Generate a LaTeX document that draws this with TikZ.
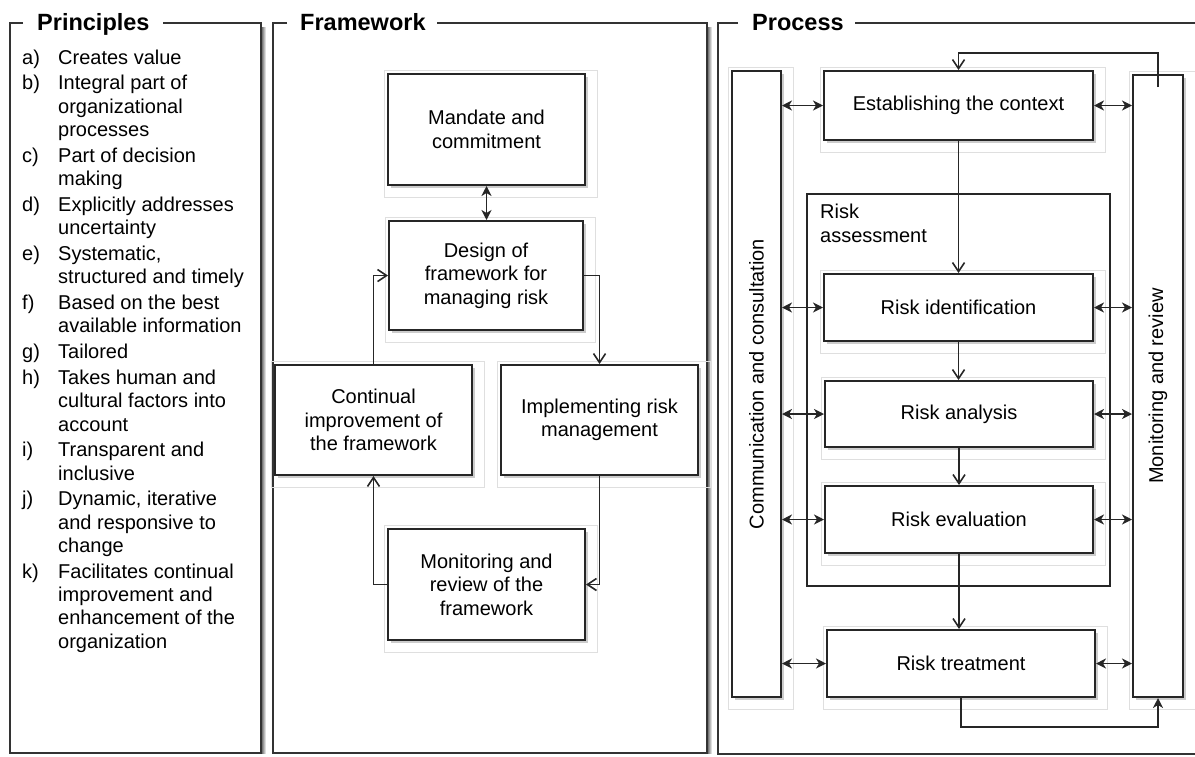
\documentclass[tikz,border=0pt]{standalone}
\usepackage{fontspec}
\setmainfont{Liberation Sans}
\usetikzlibrary{arrows.meta,shadows,calc}
\tikzset{
  box/.style={draw=black!85, line width=2pt, fill=white, inner sep=0pt, align=center,
    font=\fontsize{20}{23.5}\selectfont,
    drop shadow={shadow xshift=3pt, shadow yshift=-3pt, opacity=0.4}},
  title/.style={font=\fontsize{23.5}{26}\selectfont\bfseries, inner sep=0pt, anchor=base west},
  panel/.style={draw=black!80, line width=1.8pt},
  lframe/.style={draw=gray!25, line width=0.9pt},
  arr/.style={draw=black!85, line width=1.6pt, -{Straight Barb[length=9pt,width=12pt]}},
  farr/.style={draw=black!85, line width=1.6pt, -{Stealth[length=10pt,width=10pt,inset=3pt]}},
  darr/.style={draw=black!85, line width=1.6pt, {Stealth[length=10pt,width=10pt,inset=3pt]}-{Stealth[length=10pt,width=10pt,inset=3pt]}},
  txt/.style={font=\fontsize{20}{23.5}\selectfont, inner sep=0pt}
}
\newcommand\rsLframe[1]{\draw[lframe] ($(#1.north west)+(-3,-3)$) rectangle ($(#1.south east)+(11,11)$);}
\begin{document}
\begin{tikzpicture}[x=1pt,y=-1pt]
\useasboundingbox (0,0) rectangle (1195,756);
% panel shadows
\shade[left color=black!60, right color=white] (261.5,27) rectangle (266,753);
\shade[left color=black!60, right color=white] (707.5,27) rectangle (712,753);
% panels
\draw[panel] (23,23) -- (10,23) -- (10,753) -- (261,753) -- (261,23) -- (163,23);
\draw[panel] (287,23) -- (273,23) -- (273,753) -- (707,753) -- (707,23) -- (437,23);
\draw[panel] (738,23) -- (718,23) -- (718,754) -- (1195,754);
\draw[panel] (855,23) -- (1195,23);
\node[title] (ptitle) at (37,30) {Principles};
\node[title] (ftitle) at (300,30) {Framework};
\node[title] (prtitle) at (752,30) {Process};
% principles list
\node[anchor=base west, inner sep=0pt, font=\fontsize{20}{23.3}\selectfont] (plist) at (22,64) {%
\begin{tabular}[t]{@{}p{36pt}@{}l@{}}
a) & Creates value\\[2.5pt]
b) & Integral part of\\
   & organizational\\
   & processes\\[2.5pt]
c) & Part of decision\\
   & making\\[2.5pt]
d) & Explicitly addresses\\
   & uncertainty\\[2.5pt]
e) & Systematic,\\
   & structured and timely\\[2.5pt]
f) & Based on the best\\
   & available information\\[2.5pt]
g) & Tailored\\[2.5pt]
h) & Takes human and\\
   & cultural factors into\\
   & account\\[2.5pt]
i) & Transparent and\\
   & inclusive\\[2.5pt]
j) & Dynamic, iterative\\
   & and responsive to\\
   & change\\[2.5pt]
k) & Facilitates continual\\
   & improvement and\\
   & enhancement of the\\
   & organization
\end{tabular}};
% framework boxes
\node[box, minimum width=197pt, minimum height=111pt] (mandate) at (486.5,129.5) {Mandate and\\commitment};
\node[box, minimum width=194pt, minimum height=109pt] (design) at (486,275.5) {Design of\\framework for\\managing risk};
\node[box, minimum width=197pt, minimum height=110pt] (cont) at (373.5,420) {Continual\\improvement of\\the framework};
\node[box, minimum width=197pt, minimum height=110pt] (impl) at (599.5,420) {Implementing risk\\management};
\node[box, minimum width=197pt, minimum height=111pt] (monf) at (486.5,584.5) {Monitoring and\\review of the\\framework};
\foreach \n in {mandate,design,cont,impl,monf} {\rsLframe{\n}}
\draw[darr] (mandate.south) -- (mandate.south |- design.north);
\draw[arr] (design.east) -| (impl.north);
\draw[arr] (impl.south) |- (monf.east);
\draw[arr] (monf.west) -| (cont.south);
\draw[arr] (cont.north) |- (design.west);
% process
\node[draw=black!85, line width=1.8pt, minimum width=303pt, minimum height=392pt, inner sep=0pt] (rframe) at (958.5,390) {};
\node[anchor=base west, inner sep=0pt, font=\fontsize{20}{24.5}\selectfont] (ratext) at (820,218) {\begin{tabular}[t]{@{}l@{}}Risk\\assessment\end{tabular}};
\node[box, minimum width=49pt, minimum height=626pt] (comm) at (756.5,384) {};
\node[txt, rotate=90] (commtext) at (comm.center) {Communication and consultation};
\node[box, minimum width=50pt, minimum height=622pt] (monitor) at (1158,386) {};
\node[txt, rotate=90] (montext) at (monitor.center) {Monitoring and review};
\node[box, minimum width=269pt, minimum height=69pt] (establish) at (958.5,105.5) {Establishing the context};
\node[box, minimum width=269pt, minimum height=67pt] (ident) at (958.5,307.5) {Risk identification};
\node[box, minimum width=268pt, minimum height=66pt] (anal) at (959,414) {Risk analysis};
\node[box, minimum width=268pt, minimum height=67pt] (eval) at (959,519.5) {Risk evaluation};
\node[box, minimum width=268pt, minimum height=67pt] (treat) at (961,663.5) {Risk treatment};
\foreach \n in {comm,monitor,establish,ident,anal,eval,treat} {\rsLframe{\n}}
\foreach \n in {establish,ident,anal,eval,treat} {
  \draw[darr] (comm.east |- \n.west) -- (\n.west);
  \draw[darr] (\n.east) -- (monitor.west |- \n.east);
}
\draw[arr] (establish.south) -- (establish.south |- ident.north);
\draw[arr] (ident.south) -- (ident.south |- anal.north);
\draw[arr] (anal.south) -- (anal.south |- eval.north);
\draw[arr] (eval.south) -- (eval.south |- treat.north);
\draw[farr] (treat.south) -- ++(0,29) -| (monitor.south);
\coordinate (mstart) at (1158,87);
\draw[arr] (mstart) -- ++(0,-34) -| (establish.north);
\end{tikzpicture}
\end{document}
